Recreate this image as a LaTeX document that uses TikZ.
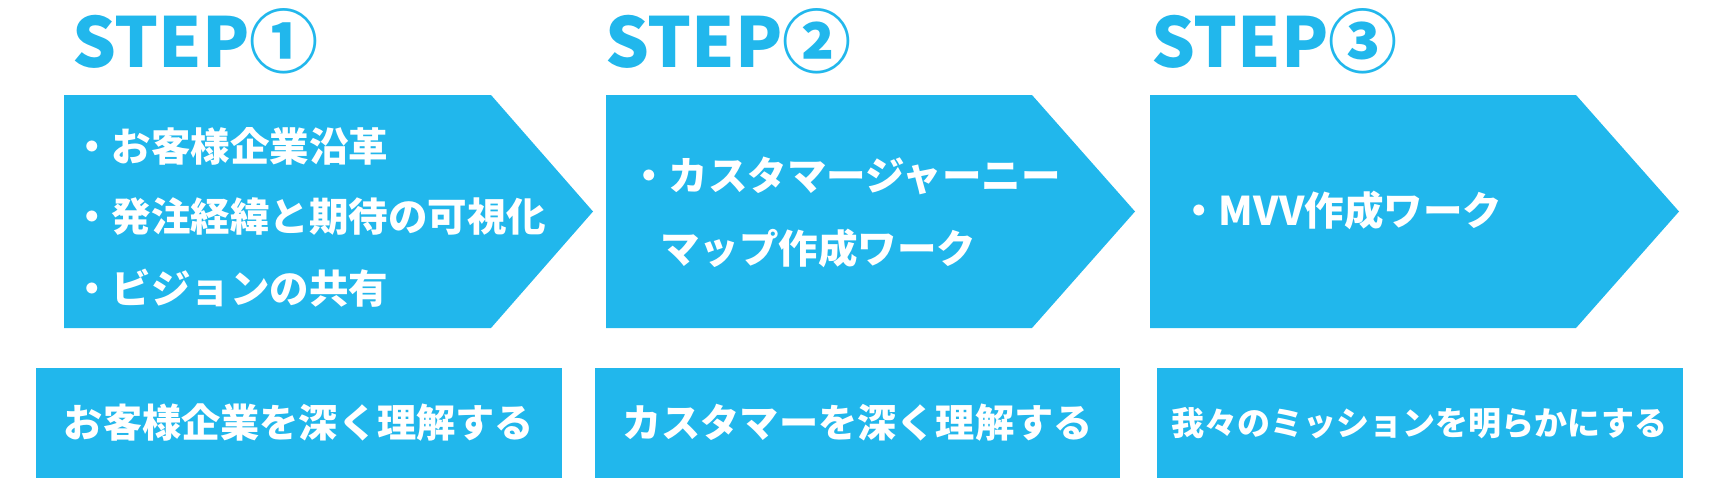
\documentclass[tikz,border=0pt]{standalone}
\usepackage{fontspec}
\setmainfont{Noto Sans CJK JP}
\definecolor{stepblue}{RGB}{33,183,236}

\begin{document}
\begin{tikzpicture}[x=1pt,y=-1pt,
 steptitle/.style={anchor=base west,inner sep=0pt,text=stepblue,font=\fontsize{69pt}{69pt}\selectfont\bfseries},
 point/.style={anchor=west,inner sep=0pt,text=white,font=\fontsize{39.5pt}{41pt}\selectfont\bfseries},
 goal/.style={fill=stepblue,text=white,minimum width=526pt,minimum height=110pt,inner sep=0pt,font=\fontsize{39.2pt}{41pt}\selectfont\bfseries}]
\useasboundingbox (0,0) rectangle (1730,491);
% step titles
\node[steptitle] (t1) at (72,67) {STEP①};
\node[steptitle] (t2) at (605,67) {STEP②};
\node[steptitle] (t3) at (1151,67) {STEP③};
% arrow shapes
\fill[stepblue] (64,95) -- (491,95) -- (593,211.5) -- (491,328) -- (64,328) -- cycle;
\fill[stepblue] (606,95) -- (1032,95) -- (1135,211.5) -- (1032,328) -- (606,328) -- cycle;
\fill[stepblue] (1150,95) -- (1576,95) -- (1679,211.5) -- (1576,328) -- (1150,328) -- cycle;
% contents
\node[point] (p1a) at (72,146) {・お客様企業沿革};
\node[point] (p1b) at (72,217) {・発注経緯と期待の可視化};
\node[point] (p1c) at (72,288) {・ビジョンの共有};
\node[point] (p2a) at (629,176) {・カスタマージャーニー};
\node[point] (p2b) at (660,248) {マップ作成ワーク};
\node[point] (p3a) at (1179,210) {・MVV作成ワーク};
% goals
\node[goal] (g1) at (299,423) {お客様企業を深く理解する};
\node[goal,minimum width=525pt] (g2) at (857.5,423) {カスタマーを深く理解する};
\node[goal,font=\fontsize{33pt}{35pt}\selectfont\bfseries] (g3) at (1419.5,423) {我々のミッションを明らかにする};
\end{tikzpicture}
\end{document}
